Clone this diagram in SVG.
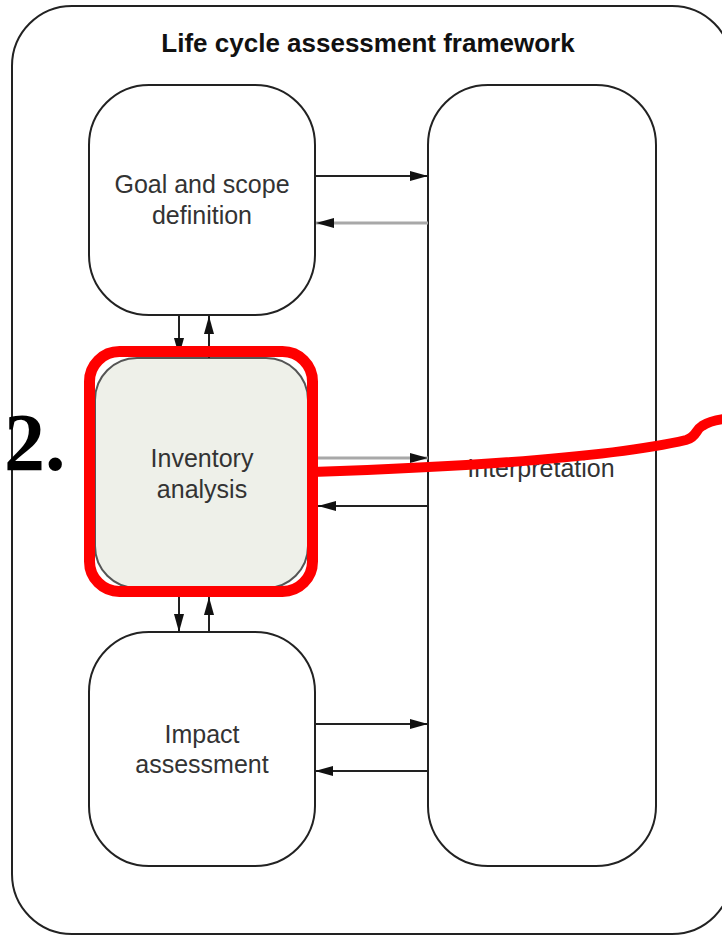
<svg xmlns="http://www.w3.org/2000/svg" width="722" height="935" viewBox="0 0 722 935">
<style>
.box{fill:#fff;stroke:#222;stroke-width:2}
.lbl{font-family:"Liberation Sans",Arial,sans-serif;font-size:25px;fill:#333;text-anchor:middle}
.title{font-family:"Liberation Sans",Arial,sans-serif;font-size:26px;font-weight:bold;fill:#111;text-anchor:middle}
.blk{stroke:#222;stroke-width:2;fill:none}
.gry{stroke:#a8a8a8;stroke-width:3;fill:none}
</style>
<defs>
<marker id="ah" markerUnits="userSpaceOnUse" markerWidth="18" markerHeight="10" refX="18" refY="5" orient="auto">
<path d="M0,0 L18,5 L0,10 Z" fill="#111"/>
</marker>
</defs>
<rect x="0" y="0" width="722" height="935" fill="#fff"/>
<g id="frame">
<rect x="12" y="6" width="720" height="928" rx="60" ry="60" class="box"/>
<text x="368" y="52" class="title">Life cycle assessment framework</text>
</g>
<g id="goal">
<rect x="89" y="85" width="226" height="230" rx="60" ry="60" class="box"/>
<text x="202" y="193" class="lbl">Goal and scope</text>
<text x="202" y="224" class="lbl">definition</text>
</g>
<g id="interpretation">
<rect x="428" y="85" width="228" height="781" rx="60" ry="60" class="box"/>
<text x="541" y="477" class="lbl">Interpretation</text>
</g>
<g id="inventory">
<rect x="95" y="358" width="213" height="230" rx="42" ry="42" fill="#eef0e9" stroke="#555" stroke-width="2"/>
<text x="202" y="467" class="lbl">Inventory</text>
<text x="202" y="498" class="lbl">analysis</text>
</g>
<g id="impact">
<rect x="89" y="632" width="226" height="234" rx="60" ry="60" class="box"/>
<text x="202" y="743" class="lbl">Impact</text>
<text x="202" y="773" class="lbl">assessment</text>
</g>
<g id="connectors">
<line x1="315" y1="176" x2="428" y2="176" class="blk" marker-end="url(#ah)"/>
<line x1="428" y1="223" x2="316" y2="223" class="gry" marker-end="url(#ah)"/>
<line x1="318" y1="458" x2="428" y2="458" class="gry" marker-end="url(#ah)"/>
<line x1="428" y1="506" x2="318" y2="506" class="blk" marker-end="url(#ah)"/>
<line x1="315" y1="724" x2="428" y2="724" class="blk" marker-end="url(#ah)"/>
<line x1="428" y1="771" x2="315" y2="771" class="blk" marker-end="url(#ah)"/>
<line x1="179" y1="315" x2="179" y2="356" class="blk" marker-end="url(#ah)"/>
<line x1="209" y1="358" x2="209" y2="316" class="blk" marker-end="url(#ah)"/>
<line x1="179" y1="597" x2="179" y2="632" class="blk" marker-end="url(#ah)"/>
<line x1="209" y1="632" x2="209" y2="597" class="blk" marker-end="url(#ah)"/>
</g>
<g id="highlight">
<rect x="89.5" y="351.5" width="223" height="240" rx="30" ry="30" fill="none" stroke="#ff0000" stroke-width="11"/>
<path d="M312,472 C430,468 600,460 686,440 C697,437 695,430 702,426 C708,422 716,420 724,419" fill="none" stroke="#ff0000" stroke-width="10" stroke-linecap="round"/>
<text x="4" y="470" font-family="'Liberation Serif','Times New Roman',serif" font-weight="bold" font-size="82" fill="#000">2.</text>
</g>
</svg>
